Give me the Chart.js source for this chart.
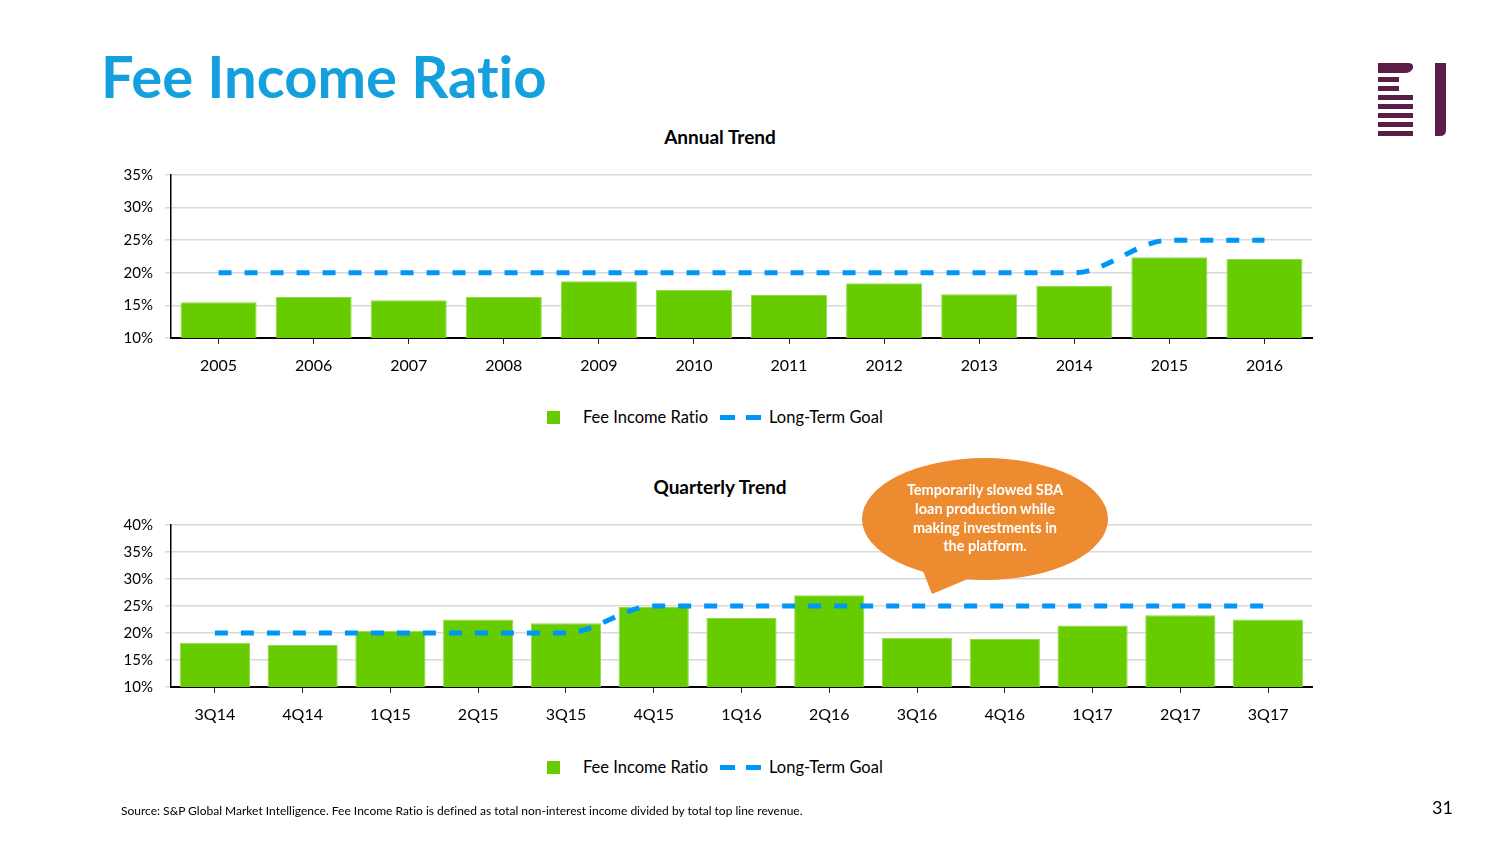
<!DOCTYPE html>
<html>
<head>
<meta charset="utf-8">
<script src="https://cdn.jsdelivr.net/npm/chart.js@4.4.1/dist/chart.umd.min.js"></script>
<style>
    body { margin: 0; width: 1504px; height: 846px; background: #fff; position: relative; overflow: hidden;
        font-family: Lato, "Open Sans", sans-serif; font-variant-ligatures: none; }
    .abs { position: absolute; }
    #title { left: 101px; top: 41px; font-size: 58px; font-weight: bold; color: #14a0dc; white-space: nowrap; }
    .ctitle { left: 0; width: 1440px; text-align: center; font-size: 19px; font-weight: bold; color: #000; }
    .legend { height: 24px; font-size: 16.5px; color: #000; white-space: nowrap; }
    .legend span { position: absolute; }
    .sq { width: 13px; height: 13px; background: #66cc00; top: 6px; }
    .dash { width: 15px; height: 5px; background: #0096f8; top: 10px; }
    #source { left: 121px; top: 803px; font-size: 12px; color: #000; white-space: nowrap; }
    #page { left: 1432px; top: 796px; font-size: 18px; color: #000; }
</style>
</head>
<body>
<div id="title" class="abs">Fee Income Ratio</div>

<svg class="abs" style="left:0;top:0" width="1504" height="160">
    <!-- logo -->
    <g fill="#5b1f47">
        <path d="M1378 63 H1408 Q1414 63 1413 68 Q1411 73 1405 73 H1378 Z"/>
        <rect x="1378" y="77" width="21" height="5"/>
        <rect x="1378" y="86" width="21" height="5"/>
        <rect x="1378" y="95" width="35" height="5"/>
        <rect x="1378" y="104" width="35" height="5"/>
        <rect x="1378" y="113" width="35" height="5"/>
        <rect x="1378" y="122" width="35" height="5"/>
        <rect x="1378" y="131" width="35" height="5"/>
        <path d="M1435 63 H1446 V130 Q1446 136 1440 136 H1435 Z"/>
    </g>
</svg>

<div class="abs ctitle" style="top:125px">Annual Trend</div>
<canvas id="annual" class="abs" style="left:100px;top:120px" width="1240" height="255"></canvas>
<div class="abs legend" style="left:0;top:405px;width:1504px">
    <span class="sq" style="left:547px"></span>
    <span style="left:583px;top:2px">Fee Income Ratio</span>
    <span class="dash" style="left:720px"></span>
    <span class="dash" style="left:746px"></span>
    <span style="left:769px;top:2px">Long-Term Goal</span>
</div>

<div class="abs ctitle" style="top:475px">Quarterly Trend</div>
<canvas id="quarterly" class="abs" style="left:100px;top:470px" width="1240" height="254"></canvas>
<div class="abs legend" style="left:0;top:755px;width:1504px">
    <span class="sq" style="left:547px"></span>
    <span style="left:583px;top:2px">Fee Income Ratio</span>
    <span class="dash" style="left:720px"></span>
    <span class="dash" style="left:746px"></span>
    <span style="left:769px;top:2px">Long-Term Goal</span>
</div>

<!-- callout, above the chart -->
<svg class="abs" style="left:0;top:0" width="1504" height="846">
    <g fill="#ed8b31">
        <ellipse cx="985" cy="519" rx="123" ry="61"/>
        <polygon points="921,566 932,594 975,576"/>
    </g>
    <g fill="#fff" font-family="Lato, 'Open Sans', sans-serif" font-size="14.5" font-weight="bold" text-anchor="middle">
        <text x="985" y="495">Temporarily slowed SBA</text>
        <text x="985" y="514">loan production while</text>
        <text x="985" y="533">making investments in</text>
        <text x="985" y="551">the platform.</text>
    </g>
</svg>

<div id="source" class="abs">Source: S&amp;P Global Market Intelligence. Fee Income Ratio is defined as total non-interest income divided by total top line revenue.</div>
<div id="page" class="abs">31</div>

<script>
// du lieu doc tu hinh (%)
const annualLabels = ['2005', '2006', '2007', '2008', '2009', '2010', '2011', '2012', '2013', '2014', '2015', '2016'];
const annualRatio = [15.5, 16.3, 15.8, 16.3, 18.7, 17.4, 16.6, 18.4, 16.7, 18.0, 22.4, 22.1];
const annualGoal = [20, 20, 20, 20, 20, 20, 20, 20, 20, 20, 25, 25];
const annualTicks = [10, 35, 5];

const quarterLabels = ['3Q14', '4Q14', '1Q15', '2Q15', '3Q15', '4Q15', '1Q16', '2Q16', '3Q16', '4Q16', '1Q17', '2Q17', '3Q17'];
const quarterRatio = [18.2, 17.8, 20.4, 22.5, 21.8, 24.8, 22.8, 27.0, 19.1, 18.9, 21.4, 23.3, 22.5];
const quarterGoal = [20, 20, 20, 20, 20, 25, 25, 25, 25, 25, 25, 25, 25];
const quarterTicks = [10, 40, 5];

const font = 'Lato, "Open Sans", sans-serif';

function feeChart(id, labels, ratio, goal, ticks) {
    const data = {
        labels: labels,
        datasets: [{
                type: 'line',
                label: 'Long-Term Goal',
                data: goal,
                borderColor: '#0096f8',
                borderWidth: 5,
                borderDash: [13, 13],
                borderCapStyle: 'butt',
                cubicInterpolationMode: 'monotone',
                pointRadius: 0,
                fill: false,
                order: 0
            }, {
                type: 'bar',
                label: 'Fee Income Ratio',
                data: ratio,
                backgroundColor: '#66cc00',
                borderColor: '#8edc4a',
                borderWidth: 1,
                categoryPercentage: 1,
                barPercentage: 0.8,
                order: 1
            }]
    };

    const config = {
        type: 'bar',
        data: data,
        options: {
            responsive: false,
            animation: false,
            layout: {padding: {left: 0, right: 28, top: 55, bottom: 0}},
            plugins: {
                legend: {display: false},
                tooltip: {enabled: false}
            },
            scales: {
                x: {
                    offset: true,
                    grid: {drawOnChartArea: false, offset: false, tickLength: 6, color: '#222', lineWidth: 1},
                    border: {color: '#000', width: 2},
                    ticks: {color: '#000', font: {family: font, size: 16}, padding: 12, maxRotation: 0},
                    afterFit: s => { s.height = 37; }
                },
                y: {
                    min: ticks[0],
                    max: ticks[1],
                    grid: {color: '#d9d9d9', lineWidth: 1.5, tickLength: 6},
                    border: {color: '#000', width: 1.5},
                    ticks: {stepSize: ticks[2], color: '#000', font: {family: font, size: 15}, padding: 12,
                        callback: v => v + '%'},
                    afterFit: s => { s.width = 71; }
                }
            }
        }
    };

    let ctx = document.getElementById(id).getContext("2d")

    new Chart(ctx, config)
}

feeChart('annual', annualLabels, annualRatio, annualGoal, annualTicks);
feeChart('quarterly', quarterLabels, quarterRatio, quarterGoal, quarterTicks);
</script>
</body>
</html>
